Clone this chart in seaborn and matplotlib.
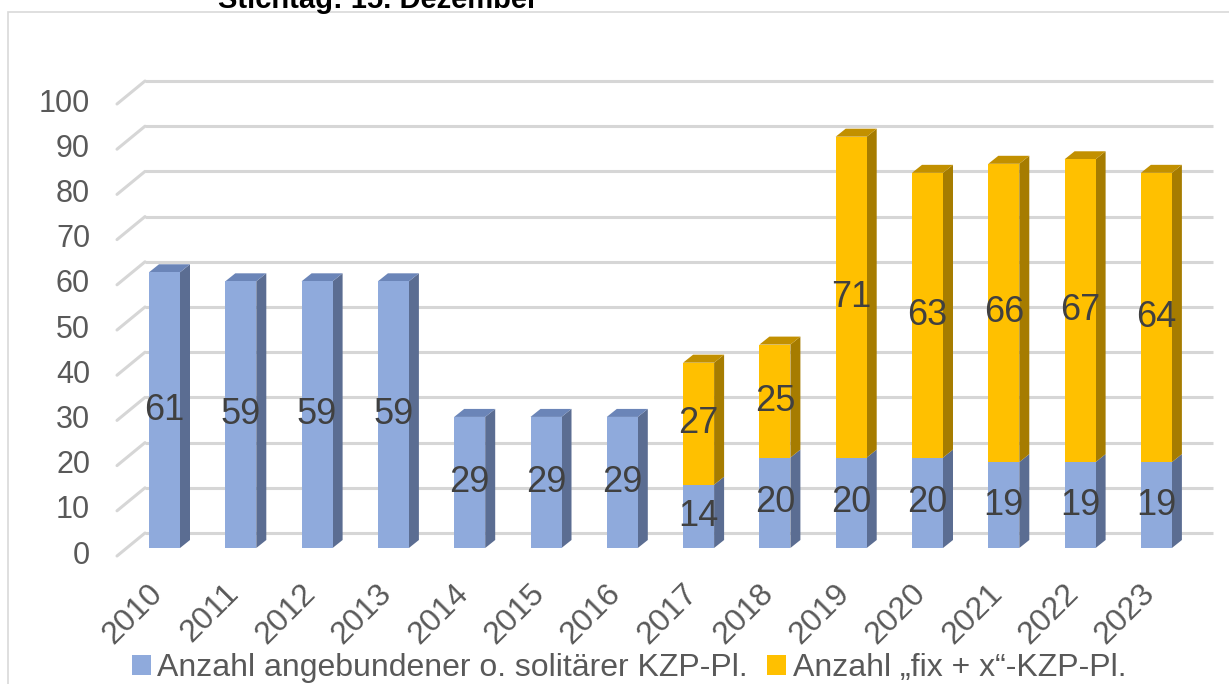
import matplotlib
matplotlib.use("Agg")
import matplotlib.pyplot as plt
import matplotlib.transforms as mtransforms
from matplotlib.patches import Patch, Polygon, Rectangle
import seaborn as sns

# ---------------- data ----------------
years = ["2010", "2011", "2012", "2013", "2014", "2015", "2016",
         "2017", "2018", "2019", "2020", "2021", "2022", "2023"]
angebunden = [61, 59, 59, 59, 29, 29, 29, 14, 20, 20, 20, 19, 19, 19]
fix_x = [0, 0, 0, 0, 0, 0, 0, 27, 25, 71, 63, 66, 67, 64]
series_names = ["Anzahl angebundener o. solitärer KZP-Pl.",
                "Anzahl \u201efix + x\u201c-KZP-Pl."]
title = "Stichtag: 15. Dezember"
yticks = list(range(0, 101, 10))

totals = [a + b for a, b in zip(angebunden, fix_x)]

# ---------------- style ----------------
sns.set_style("white")
plt.rcParams['font.family'] = ['Liberation Sans', 'DejaVu Sans']

BLUE = "#8FAADC"
BLUE_SIDE = "#5B6D92"
BLUE_TOP = "#6B85B8"
YEL = "#FFC000"
YEL_SIDE = "#A67C00"
YEL_TOP = "#C29000"
GRID = "#D6D6D6"
TXT = "#595959"
LBL = "#404040"

W, H = 1229, 684
fig = plt.figure(figsize=(W / 100, H / 100), dpi=100)
fig.patch.set_facecolor("white")

# frame of the chart area
fig.add_artist(Rectangle((8 / W, -0.1), 1.2, (H - 12) / H + 0.1,
                         transform=fig.transFigure, fill=False,
                         edgecolor="#D9D9D9", linewidth=1.2, clip_on=False))

ax_left, ax_right, ax_bottom, ax_top = 117, 1213, 548, 96
ax = fig.add_axes([ax_left / W, (H - ax_bottom) / H,
                   (ax_right - ax_left) / W, (ax_bottom - ax_top) / H])

spacing = 76.3
x0 = 164.5
bw = 31 / spacing
px_y = (ax_bottom - ax_top) / 100.0  # px per y unit
ddx = 10 / spacing
ddy = 8 / px_y

# front faces through seaborn
sns.barplot(x=years, y=totals, color=YEL, saturation=1, width=bw,
            errorbar=None, linewidth=0, ax=ax, zorder=3)
sns.barplot(x=years, y=angebunden, color=BLUE, saturation=1, width=bw,
            errorbar=None, linewidth=0, ax=ax, zorder=3)

ax.set_xlim(-(x0 - ax_left) / spacing, (ax_right - x0) / spacing)
ax.set_ylim(0, 100)

# gridlines on back wall with diagonal floor connectors
back_frac = (145 - ax_left) / (ax_right - ax_left)
blend = mtransforms.blended_transform_factory(ax.transAxes, ax.transData)
for v in yticks:
    ax.plot([back_frac, 1.0], [v + 15 / px_y] * 2, color=GRID, lw=2.2,
            transform=blend, clip_on=False, zorder=1, solid_capstyle="butt")
    ax.plot([0.0, back_frac], [v - 8 / px_y, v + 15 / px_y], color=GRID,
            lw=2.2, transform=blend, clip_on=False, zorder=1)

# 3D side and top faces
def side(i, b, t, color):
    x1 = i + bw / 2
    ax.add_patch(Polygon([(x1, b), (x1 + ddx, b + ddy), (x1 + ddx, t + ddy), (x1, t)],
                         closed=True, facecolor=color, edgecolor="none", zorder=2.5))

def top(i, t, color):
    xa, xb = i - bw / 2, i + bw / 2
    ax.add_patch(Polygon([(xa, t), (xa + ddx, t + ddy), (xb + ddx, t + ddy), (xb, t)],
                         closed=True, facecolor=color, edgecolor="none", zorder=2.5))

for i, (a, f) in enumerate(zip(angebunden, fix_x)):
    side(i, 0, a, BLUE_SIDE)
    if f > 0:
        side(i, a, a + f, YEL_SIDE)
        top(i, a + f, YEL_TOP)
    else:
        top(i, a, BLUE_TOP)

# data labels
for i, (a, f) in enumerate(zip(angebunden, fix_x)):
    ax.text(i, a / 2, str(a), ha="center", va="center", fontsize=26,
            color=LBL, zorder=5)
    if f > 0:
        ax.text(i, a + f / 2, str(f), ha="center", va="center", fontsize=26,
                color=LBL, zorder=5)

# axes styling
for s in ax.spines.values():
    s.set_visible(False)
ax.set_xlabel("")
ax.set_ylabel("")
ax.set_yticks(yticks)
ax.set_yticklabels([str(v) for v in yticks])
ax.tick_params(axis="y", length=0, pad=19.4, labelsize=22, labelcolor=TXT)
ax.tick_params(axis="x", length=0, pad=29.5, labelsize=23, labelcolor=TXT)
ax.set_xticks(range(len(years)))
ax.set_xticklabels(years)
for lab in ax.get_yticklabels():
    lab.set_transform(lab.get_transform() +
                      mtransforms.ScaledTranslation(0, -4 / 100, fig.dpi_scale_trans))
for lab in ax.get_xticklabels():
    lab.set_rotation(45)
    lab.set_ha("right")
    lab.set_va("center")
    lab.set_rotation_mode("anchor")
    lab.set_transform(lab.get_transform() +
                      mtransforms.ScaledTranslation(-6 / 100, 0, fig.dpi_scale_trans))
ax.grid(False)
ax.set_facecolor("none")

# legend
handles = [Patch(facecolor=BLUE, edgecolor="none"), Patch(facecolor=YEL, edgecolor="none")]
fig.legend(handles, series_names, loc="center", bbox_to_anchor=(629 / W, 16 / H),
           ncol=2, frameon=False, fontsize=23, labelcolor=TXT,
           handlelength=0.6, handleheight=0.6, handletextpad=0.2,
           columnspacing=0.6, borderaxespad=0)

# title (partly cut off at the top as in the reference)
fig.text(378 / W, (H - 8) / H, title, ha="center", va="baseline",
         fontsize=21, fontweight="bold", color="black")

fig.savefig("out.png", dpi=100)
